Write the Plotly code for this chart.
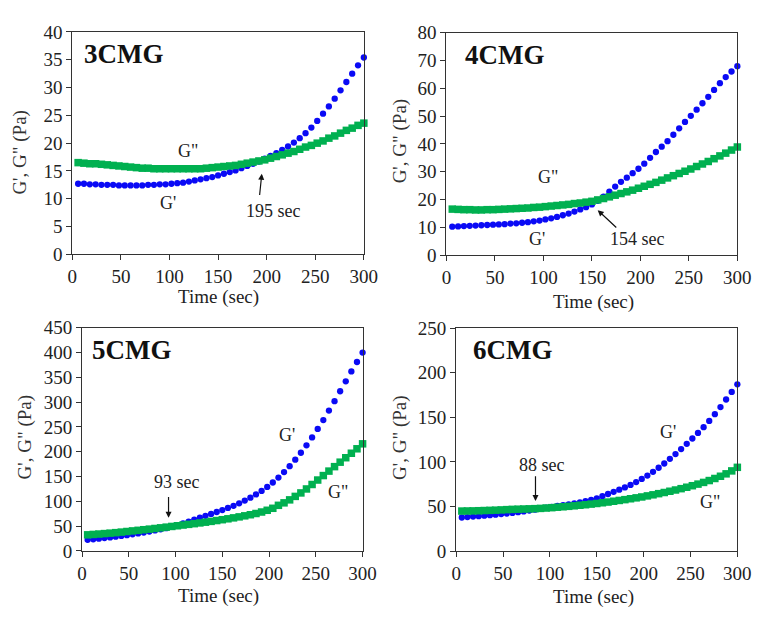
import plotly.graph_objects as go

# Sampling times (sec)
time_s = [6, 12, 18, 24, 30, 36, 42, 48, 54, 60,
          66, 72, 78, 84, 90, 96, 102, 108, 114, 120,
          126, 132, 138, 144, 150, 156, 162, 168, 174, 180,
          186, 192, 198, 204, 210, 216, 222, 228, 234, 240,
          246, 252, 258, 264, 270, 276, 282, 288, 294, 300]

# 3CMG
g1_storage = [12.7, 12.7, 12.6, 12.6, 12.5, 12.5, 12.5, 12.4, 12.4, 12.4,
              12.4, 12.4, 12.5, 12.5, 12.6, 12.6, 12.7, 12.8, 12.9, 13.1,
              13.3, 13.5, 13.7, 13.9, 14.2, 14.5, 14.8, 15.1, 15.5, 15.9,
              16.3, 16.7, 17.2, 17.7, 18.2, 18.8, 19.4, 20.1, 20.9, 21.8,
              22.8, 24.0, 25.3, 26.6, 28.0, 29.5, 31.0, 32.5, 34.0, 35.4]
g1_loss = [16.5, 16.4, 16.3, 16.3, 16.2, 16.1, 16.0, 15.9, 15.8, 15.7,
           15.6, 15.5, 15.5, 15.4, 15.4, 15.4, 15.4, 15.4, 15.4, 15.4,
           15.4, 15.4, 15.5, 15.6, 15.7, 15.8, 15.9, 16.0, 16.2, 16.4,
           16.6, 16.8, 17.0, 17.3, 17.6, 17.9, 18.2, 18.5, 18.9, 19.3,
           19.6, 20.0, 20.4, 20.9, 21.3, 21.8, 22.3, 22.7, 23.2, 23.6]

# 4CMG
g2_storage = [10.3, 10.4, 10.5, 10.6, 10.7, 10.8, 10.9, 11.0, 11.1, 11.2,
              11.4, 11.5, 11.7, 11.9, 12.2, 12.5, 12.9, 13.3, 13.8, 14.4,
              15.0, 15.7, 16.5, 17.3, 18.3, 19.6, 21.1, 22.9, 24.7, 26.4,
              27.9, 29.5, 31.1, 32.9, 35.0, 37.1, 39.0, 41.0, 43.3, 45.6,
              47.9, 50.1, 52.3, 54.6, 56.9, 59.4, 61.8, 64.0, 66.0, 67.9]
g2_loss = [16.6, 16.5, 16.4, 16.4, 16.3, 16.3, 16.4, 16.4, 16.5, 16.6,
           16.7, 16.8, 16.9, 17.0, 17.2, 17.3, 17.5, 17.7, 17.9, 18.1,
           18.3, 18.6, 18.8, 19.1, 19.4, 19.9, 20.4, 21.0, 21.6, 22.2,
           22.8, 23.4, 24.1, 24.8, 25.5, 26.2, 27.0, 27.8, 28.6, 29.4,
           30.2, 31.0, 31.9, 32.8, 33.7, 34.7, 35.7, 36.7, 37.8, 38.9]

# 5CMG
g3_storage = [22.5, 23.6, 24.8, 26.0, 27.3, 28.7, 30.2, 31.8, 33.5, 35.3,
              37.2, 39.2, 41.3, 43.5, 46.0, 48.8, 52.0, 55.5, 59.2, 63.0,
              67.0, 70.8, 74.6, 78.5, 82.5, 86.7, 91.0, 96.0, 101.5, 107.5,
              114, 121, 129, 138, 148, 159, 171, 184, 198, 213,
              229, 246, 264, 283, 302, 322, 342, 362, 381, 400]
g3_loss = [32.5, 33.3, 34.1, 35.0, 35.9, 36.9, 38.0, 39.2, 40.4, 41.6,
           42.8, 44.0, 45.3, 46.6, 48.0, 49.4, 50.8, 52.2, 53.6, 55.0,
           56.5, 58.0, 59.6, 61.3, 63.0, 64.8, 66.7, 68.7, 70.8, 73.0,
           75.5, 78.5, 82.0, 86.0, 92, 97, 103, 110, 117, 125,
           134, 143, 152, 161, 170, 179, 188, 197, 206, 216]

# 6CMG
g4_storage = [37.8, 38.3, 38.8, 39.3, 39.8, 40.4, 41.0, 41.6, 42.2, 42.9,
              43.7, 44.6, 45.5, 46.5, 47.6, 48.7, 49.7, 50.7, 51.7, 52.6,
              53.6, 54.7, 56.0, 57.4, 59.3, 61.6, 64.1, 66.5, 69.0, 71.5,
              74.3, 77.5, 81.0, 84.8, 89.0, 93.5, 98.3, 103.5, 108.8, 114.5,
              120.3, 126.3, 132.5, 139, 146, 153.5, 161.5, 170, 178.5, 187]
g4_loss = [45.0, 45.1, 45.2, 45.4, 45.6, 45.8, 46.0, 46.3, 46.6, 46.9,
           47.1, 47.3, 47.5, 47.7, 48.0, 48.4, 48.8, 49.3, 49.8, 50.3,
           50.9, 51.5, 52.1, 52.8, 53.5, 54.3, 55.1, 56.0, 56.9, 57.8,
           58.8, 59.8, 60.8, 62.0, 63.2, 64.5, 65.8, 67.2, 68.6, 70.1,
           71.7, 73.4, 75.2, 77.1, 79.2, 81.5, 84.0, 86.7, 90.0, 94.0]

sample_names = ["3CMG", "4CMG", "5CMG", "6CMG"]
crossover_labels = ["195 sec", "154 sec", "93 sec", "88 sec"]
y_max = [40, 80, 450, 250]
y_step = [5, 10, 50, 50]
x_ticks = [0, 50, 100, 150, 200, 250, 300]

storage = [g1_storage, g2_storage, g3_storage, g4_storage]
loss = [g1_loss, g2_loss, g3_loss, g4_loss]

W, H = 765, 617
FONT = "Liberation Serif, Times New Roman, serif"
TXT = "#222222"
BLUE = "#0a0af5"
GREEN = "#00b050"
TICK_SIZE = 19
TEXT_SIZE = 18

# panel frames in pixels: left, right, top, bottom
frames = [(69, 368, 22.7, 253), (452.7, 751, 23.3, 254),
          (79, 366.7, 329, 560), (462.7, 751, 329.3, 560.3)]
# axis title centres in pixels
xtitle_pos = [(219, 297), (604, 302), (219, 607), (604, 608)]
ytitle_pos = [(15, 147), (405, 135), (20, 442), (405, 442)]

fig = go.Figure()
layout = {}
annotations = []

for i in range(4):
    k = "" if i == 0 else str(i + 1)
    xa, ya = "x" + k, "y" + k
    l, r, t, b = frames[i]
    layout["xaxis" + k] = dict(
        domain=[l / W, r / W], range=[0, 300], anchor=ya,
        tickvals=x_ticks, ticks="outside", ticklen=5, tickwidth=1,
        tickcolor="#333", showline=True, linecolor="#333", linewidth=1.2,
        mirror=True, showgrid=False, zeroline=False,
        tickfont=dict(family=FONT, size=TICK_SIZE, color=TXT),
    )
    layout["yaxis" + k] = dict(
        domain=[1 - b / H, 1 - t / H], range=[0, y_max[i]], anchor=xa,
        dtick=y_step[i], tick0=0, ticks="outside", ticklen=5, tickwidth=1,
        tickcolor="#333", showline=True, linecolor="#333", linewidth=1.2,
        mirror=True, showgrid=False, zeroline=False,
        tickfont=dict(family=FONT, size=TICK_SIZE, color=TXT),
    )
    fig.add_trace(go.Scatter(
        x=time_s, y=storage[i], mode="markers", xaxis=xa, yaxis=ya,
        marker=dict(symbol="circle", size=6.3, color=BLUE),
        cliponaxis=False, showlegend=False, name="G'"))
    fig.add_trace(go.Scatter(
        x=time_s, y=loss[i], mode="markers", xaxis=xa, yaxis=ya,
        marker=dict(symbol="square", size=7.5, color=GREEN),
        cliponaxis=False, showlegend=False, name='G"'))

    # sample name
    annotations.append(dict(
        xref=xa, yref=ya, x=[10, 17, 9, 16][i],
        y=y_max[i] * 0.9, text="<b>%s</b>" % sample_names[i], showarrow=False,
        xanchor="left", yanchor="middle",
        font=dict(family=FONT, size=27, color="#111")))
    # axis titles
    annotations.append(dict(
        xref="paper", yref="paper", x=xtitle_pos[i][0] / W,
        y=1 - xtitle_pos[i][1] / H, text="Time (sec)", showarrow=False,
        xanchor="center", yanchor="middle",
        font=dict(family=FONT, size=TICK_SIZE, color=TXT)))
    annotations.append(dict(
        xref="paper", yref="paper", x=ytitle_pos[i][0] / W,
        y=1 - ytitle_pos[i][1] / H, text="G', G\" (Pa)", textangle=-90,
        showarrow=False, xanchor="center", yanchor="middle",
        font=dict(family=FONT, size=TICK_SIZE, color="#333")))

# series labels and crossover markers (data coordinates)
curve_labels = [
    ("x", "y", 119, 18.6, 'G"'), ("x", "y", 98, 9.3, "G'"),
    ("x2", "y2", 104.6, 28, 'G"'), ("x2", "y2", 93.6, 5.8, "G'"),
    ("x3", "y3", 219.3, 234, "G'"), ("x3", "y3", 274, 119, 'G"'),
    ("x4", "y4", 226, 134, "G'"), ("x4", "y4", 271, 55.5, 'G"'),
]
for xa, ya, x, y, txt in curve_labels:
    annotations.append(dict(xref=xa, yref=ya, x=x, y=y, text=txt,
                            showarrow=False,
                            font=dict(family=FONT, size=TEXT_SIZE, color=TXT)))

crossover_text = [("x", "y", 206.6, 7.8), ("x2", "y2", 196.8, 5.8),
                  ("x3", "y3", 100.8, 140), ("x4", "y4", 90.8, 96.6)]
for (xa, ya, x, y), txt in zip(crossover_text, crossover_labels):
    annotations.append(dict(xref=xa, yref=ya, x=x, y=y, text=txt,
                            showarrow=False,
                            font=dict(family=FONT, size=TEXT_SIZE, color=TXT)))

# arrows: tip (x, y) and tail (ax, ay)
arrows = [("x", "y", 195, 14.5, 192.6, 10.4),
          ("x2", "y2", 156, 16.2, 176.7, 9.5),
          ("x3", "y3", 92.5, 67, 92.5, 112),
          ("x4", "y4", 84.6, 56.3, 84.6, 85.8)]
for xa, ya, x, y, ax, ay in arrows:
    annotations.append(dict(xref=xa, yref=ya, x=x, y=y, axref=xa, ayref=ya,
                            ax=ax, ay=ay, text="", showarrow=True,
                            arrowhead=2, arrowsize=1, arrowwidth=1.2,
                            arrowcolor="#111", standoff=0, startstandoff=0))

fig.update_layout(
    width=W, height=H, margin=dict(l=0, r=0, t=0, b=0),
    paper_bgcolor="white", plot_bgcolor="white",
    annotations=annotations, showlegend=False, **layout)

fig.write_html("out.html")
